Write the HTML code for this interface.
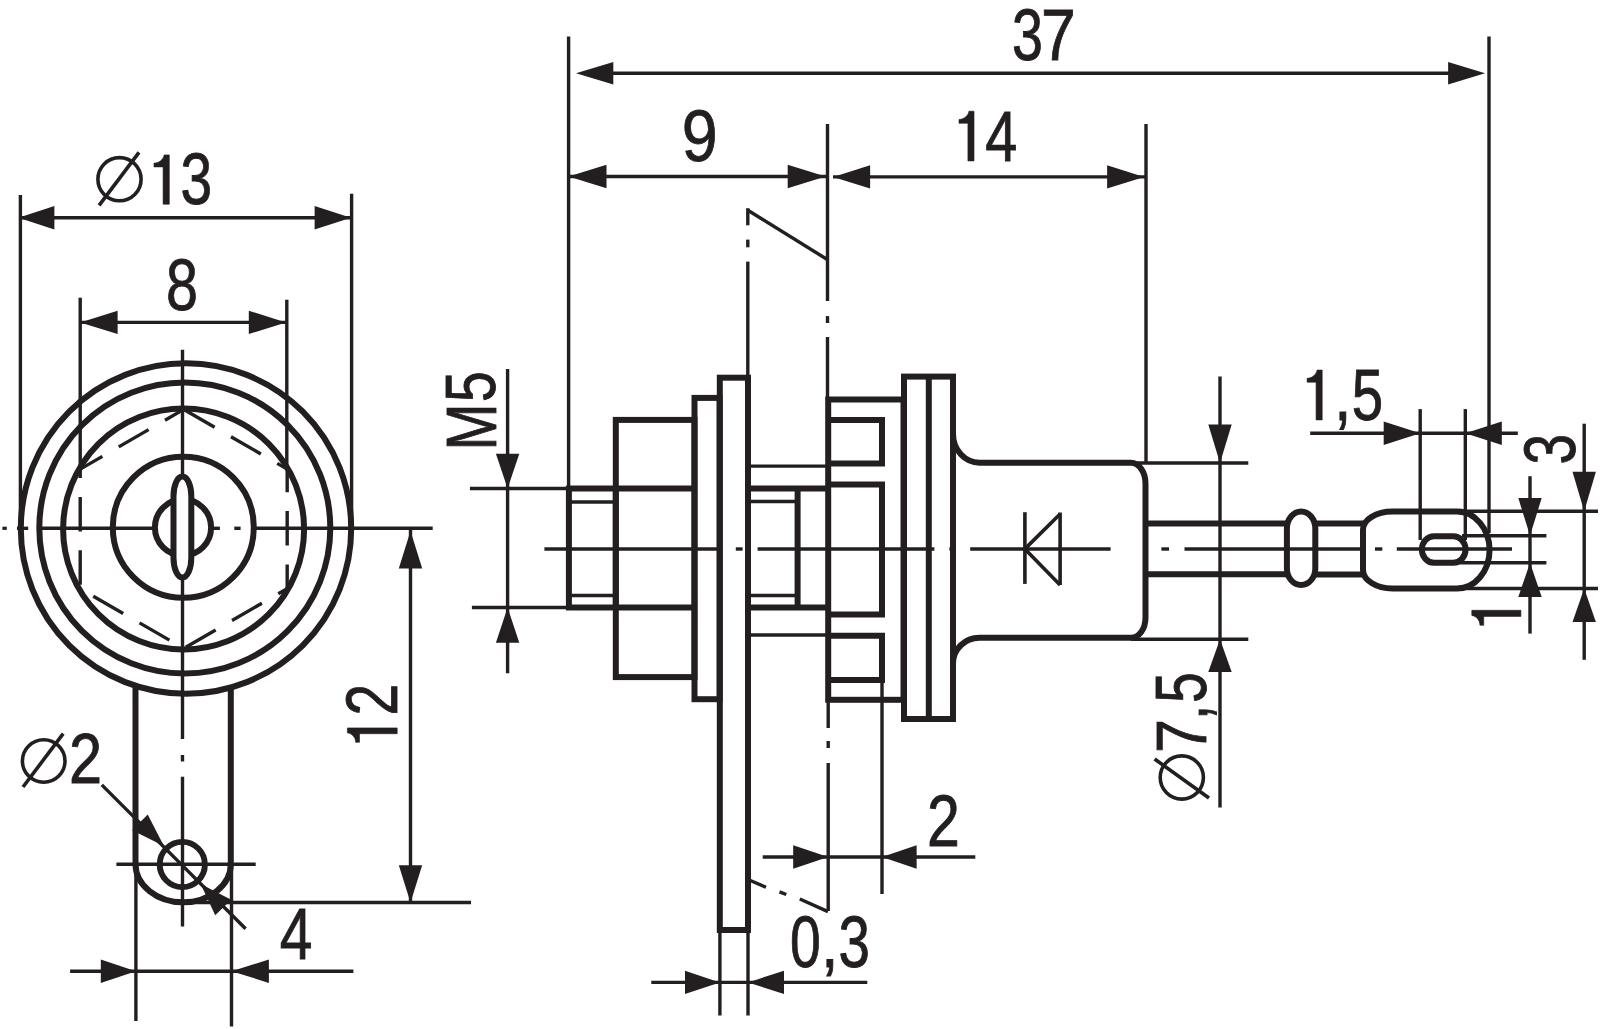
<!DOCTYPE html>
<html><head><meta charset="utf-8"><style>
html,body{margin:0;padding:0;background:#fff;width:1600px;height:1029px;overflow:hidden}
svg{display:block}
text{font-family:"Liberation Sans",sans-serif}
</style></head><body>
<svg width="1600" height="1029" viewBox="0 0 1600 1029">
<rect x="0" y="0" width="1600" height="1029" fill="#fff"/>
<g stroke="#231f20" fill="none" stroke-linecap="butt" stroke-linejoin="miter">
<line x1="182.5" y1="349.7" x2="182.5" y2="739" stroke-width="3.4"/>
<line x1="182.5" y1="755" x2="182.5" y2="761.5" stroke-width="3.4"/>
<line x1="182.5" y1="776.8" x2="182.5" y2="926.5" stroke-width="3.4"/>
<line x1="2.4" y1="528.3" x2="6.8" y2="528.3" stroke-width="3.2"/>
<line x1="17" y1="528.3" x2="28.2" y2="528.3" stroke-width="3.4"/>
<line x1="40" y1="528.3" x2="155" y2="528.3" stroke-width="3.4"/>
<line x1="211" y1="528.3" x2="219.9" y2="528.3" stroke-width="3.4"/>
<line x1="234.3" y1="528.3" x2="240.6" y2="528.3" stroke-width="3.4"/>
<line x1="253" y1="528.3" x2="432.7" y2="528.3" stroke-width="3.4"/>
<circle cx="186" cy="528.5" r="165.2" stroke-width="6.0" fill="none"/>
<circle cx="184.8" cy="528" r="145.5" stroke-width="6.0" fill="none"/>
<circle cx="183.6" cy="529" r="120.5" stroke-width="6.0" fill="none"/>
<circle cx="183.3" cy="527.3" r="70.5" stroke-width="6.0" fill="none"/>
<circle cx="183" cy="527.4" r="28.1" stroke-width="6.0" fill="none"/>
<path d="M173.5,496 A8.9,19.5 0 0 1 191.3,496 L191.3,558 A8.9,19.5 0 0 1 173.5,558 Z" stroke-width="6.0" fill="#fff" />
<path d="M183.70,409.40 L80.21,469.15 L80.21,588.65 L183.70,648.40 L287.19,588.65 L287.19,469.15 Z" stroke-width="3.4" fill="none" stroke-dasharray="34.5 18.9" stroke-dashoffset="12.9"/>
<line x1="20.4" y1="195" x2="20.4" y2="528" stroke-width="3.4"/>
<line x1="351.6" y1="193.8" x2="351.6" y2="528" stroke-width="3.4"/>
<line x1="20.4" y1="217.8" x2="351.6" y2="217.8" stroke-width="3.4"/>
<polygon points="18.5,217.8 54.4,206.1 54.4,229.5" fill="#231f20" stroke="none"/>
<polygon points="351.0,217.8 314.6,229.5 314.6,206.1" fill="#231f20" stroke="none"/>
<line x1="80.2" y1="297.7" x2="80.2" y2="469.2" stroke-width="3.4"/>
<line x1="286.8" y1="299.7" x2="286.8" y2="469.2" stroke-width="3.4"/>
<line x1="80.2" y1="322.4" x2="286.8" y2="322.4" stroke-width="3.4"/>
<polygon points="80.2,322.4 117.6,310.7 117.6,334.1" fill="#231f20" stroke="none"/>
<polygon points="286.0,322.4 248.8,334.1 248.8,310.7" fill="#231f20" stroke="none"/>
<path d="M135.5,686 L135.5,864 A47.65,38.3 0 0 0 230.8,864 L230.8,688" stroke-width="6.0" fill="none" />
<circle cx="182.3" cy="864.5" r="22.6" stroke-width="5.9" fill="none"/>
<line x1="116.4" y1="864.3" x2="255.7" y2="864.3" stroke-width="3.4"/>
<line x1="135.9" y1="864" x2="135.9" y2="1021" stroke-width="3.4"/>
<line x1="231.5" y1="864" x2="231.5" y2="1026.5" stroke-width="3.4"/>
<line x1="70.1" y1="971.2" x2="353.4" y2="971.2" stroke-width="3.4"/>
<polygon points="135.9,971.2 100.8,982.9 100.8,959.5" fill="#231f20" stroke="none"/>
<polygon points="231.5,971.2 268.9,959.5 268.9,982.9" fill="#231f20" stroke="none"/>
<line x1="183" y1="902.5" x2="471" y2="902.5" stroke-width="3.4"/>
<line x1="410.5" y1="528.3" x2="410.5" y2="902.5" stroke-width="3.4"/>
<polygon points="410.5,531.0 422.2,568.5 398.8,568.5" fill="#231f20" stroke="none"/>
<polygon points="410.5,902.5 398.8,865.2 422.2,865.2" fill="#231f20" stroke="none"/>
<line x1="101.8" y1="784.9" x2="245.6" y2="928.7" stroke-width="3.4"/>
<polygon points="163.9,846.0 132.1,830.2 147.7,814.4" fill="#231f20" stroke="none"/>
<polygon points="200.7,884.0 231.2,899.8 215.2,915.2" fill="#231f20" stroke="none"/>
<rect x="568.9" y="488.5" width="46.89999999999998" height="119.0" stroke-width="6.0" fill="none"/>
<line x1="568.9" y1="502" x2="615.8" y2="502" stroke-width="3.4"/>
<line x1="568.9" y1="595.5" x2="615.8" y2="595.5" stroke-width="3.4"/>
<rect x="615.8" y="419.9" width="78.70000000000005" height="257.20000000000005" stroke-width="6.0" fill="none"/>
<line x1="615.8" y1="488.5" x2="694.5" y2="488.5" stroke-width="6.0"/>
<line x1="615.8" y1="607.5" x2="694.5" y2="607.5" stroke-width="6.0"/>
<rect x="694.5" y="397.9" width="25.100000000000023" height="301.30000000000007" stroke-width="6.0" fill="none"/>
<rect x="719.8" y="377.7" width="28.200000000000045" height="552.3" stroke-width="6.0" fill="none"/>
<line x1="719.9" y1="930" x2="719.9" y2="1015.5" stroke-width="3.4"/>
<line x1="748" y1="930" x2="748" y2="1015.5" stroke-width="3.4"/>
<line x1="748" y1="466.1" x2="828" y2="466.1" stroke-width="3.4"/>
<line x1="748" y1="488.5" x2="828" y2="488.5" stroke-width="6.0"/>
<line x1="748" y1="501.5" x2="797.6" y2="501.5" stroke-width="3.4"/>
<line x1="797.6" y1="488.5" x2="797.6" y2="607.5" stroke-width="6.0"/>
<line x1="748" y1="595.5" x2="797.6" y2="595.5" stroke-width="3.4"/>
<line x1="748" y1="607.5" x2="828" y2="607.5" stroke-width="6.0"/>
<line x1="748" y1="635" x2="828" y2="635" stroke-width="3.4"/>
<rect x="828.2" y="399.5" width="75.29999999999995" height="300.29999999999995" stroke-width="6.0" fill="none"/>
<polyline points="828.2,419.9 882,419.9 882,463.4 828.2,463.4" stroke-width="6.0" fill="none"/>
<polyline points="828.2,484.6 882,484.6 882,614.5 828.2,614.5" stroke-width="6.0" fill="none"/>
<polyline points="828.2,635.7 882,635.7 882,680 828.2,680" stroke-width="6.0" fill="none"/>
<rect x="904" y="376.6" width="49" height="342.4" stroke-width="6.0" fill="none"/>
<line x1="928.8" y1="376.6" x2="928.8" y2="719" stroke-width="6.0"/>
<path d="M953,434 A26.5,28.7 0 0 0 979.5,462.7 L1131,462.7 A14.5,21 0 0 1 1145.5,484 L1145.5,618 A14.5,20 0 0 1 1131,637.8 L979.5,637.8 A26.5,25.5 0 0 0 953,663.3" stroke-width="6.0" fill="none" />
<line x1="1024.9" y1="512.2" x2="1024.9" y2="583.9" stroke-width="3.6"/>
<line x1="1024.9" y1="548.9" x2="1060.1" y2="514" stroke-width="3.6"/>
<line x1="1060.1" y1="512.5" x2="1060.1" y2="585" stroke-width="3.6"/>
<line x1="1024.9" y1="548.9" x2="1060.1" y2="585" stroke-width="3.6"/>
<line x1="1145.5" y1="523.5" x2="1288" y2="523.5" stroke-width="6.0"/>
<line x1="1145.5" y1="574.2" x2="1288" y2="574.2" stroke-width="6.0"/>
<line x1="1314" y1="523.4" x2="1364" y2="523.4" stroke-width="6.0"/>
<line x1="1314" y1="574.5" x2="1364" y2="574.5" stroke-width="6.0"/>
<path d="M1286.9,528.5 A14.2,17 0 0 1 1315.3,528.5 L1315.3,568.5 A14.2,16.5 0 0 1 1286.9,568.5 Z" stroke-width="6.0" fill="#fff" />
<path d="M1392.4,511.6 L1457,511.6 A32.6,38.45 0 0 1 1457,588.5 L1392.4,588.5 A29.4,18.5 0 0 1 1363,570 L1363,529.5 A29.4,17.9 0 0 1 1392.4,511.6 Z" stroke-width="6.0" fill="#fff" />
<path d="M1434,536.25 L1453.4,536.25 A12.15,13.25 0 0 1 1453.4,562.75 L1434,562.75 A12.15,13.25 0 0 1 1434,536.25 Z" stroke-width="6.0" fill="none" />
<line x1="544.4" y1="549.0" x2="718" y2="549.0" stroke-width="3.4"/>
<line x1="735.8" y1="549.0" x2="742.6" y2="549.0" stroke-width="3.4"/>
<line x1="757.6" y1="549.0" x2="934.4" y2="549.0" stroke-width="3.4"/>
<line x1="949.4" y1="549.0" x2="953" y2="549.0" stroke-width="3.4"/>
<line x1="970.2" y1="549.0" x2="1110.6" y2="549.0" stroke-width="3.4"/>
<line x1="1161.4" y1="549.0" x2="1169" y2="549.0" stroke-width="3.4"/>
<line x1="1184.5" y1="549.0" x2="1361.4" y2="549.0" stroke-width="3.4"/>
<line x1="1375" y1="549.0" x2="1382.3" y2="549.0" stroke-width="3.4"/>
<line x1="1396.8" y1="549.0" x2="1512" y2="549.0" stroke-width="3.4"/>
<line x1="747.8" y1="208.2" x2="747.8" y2="225.3" stroke-width="3.4"/>
<line x1="747.8" y1="239.6" x2="747.8" y2="247.3" stroke-width="3.4"/>
<line x1="747.8" y1="261.6" x2="747.8" y2="377" stroke-width="3.4"/>
<line x1="747.8" y1="210.3" x2="827.3" y2="259.5" stroke-width="3.4"/>
<line x1="827.5" y1="123.9" x2="827.5" y2="301.1" stroke-width="3.4"/>
<line x1="827.5" y1="316.1" x2="827.5" y2="323" stroke-width="3.4"/>
<line x1="827.5" y1="337" x2="827.5" y2="399.5" stroke-width="3.4"/>
<line x1="828.2" y1="699.6" x2="828.2" y2="728" stroke-width="3.4"/>
<line x1="828.2" y1="741" x2="828.2" y2="748" stroke-width="3.4"/>
<line x1="828.2" y1="763" x2="828.2" y2="911" stroke-width="3.4"/>
<line x1="750.3" y1="880.5" x2="766" y2="887.3" stroke-width="3.4"/>
<line x1="779.5" y1="891.8" x2="786.3" y2="894.5" stroke-width="3.4"/>
<line x1="799.8" y1="899" x2="828" y2="911.6" stroke-width="3.4"/>
<line x1="568.6" y1="36.4" x2="568.6" y2="488.5" stroke-width="3.4"/>
<line x1="1489" y1="36.6" x2="1489" y2="533" stroke-width="3.4"/>
<line x1="590" y1="73.3" x2="1470" y2="73.3" stroke-width="3.4"/>
<polygon points="576.0,73.3 613.3,62.0 613.3,84.6" fill="#231f20" stroke="none"/>
<polygon points="1485.1,73.3 1448.1,84.6 1448.1,62.0" fill="#231f20" stroke="none"/>
<line x1="568.6" y1="176.5" x2="827.5" y2="176.5" stroke-width="3.4"/>
<polygon points="568.6,176.5 606.5,164.8 606.5,188.2" fill="#231f20" stroke="none"/>
<polygon points="825.6,176.5 787.7,188.2 787.7,164.8" fill="#231f20" stroke="none"/>
<line x1="1146" y1="123.9" x2="1146" y2="462.7" stroke-width="3.4"/>
<line x1="833" y1="176.9" x2="1146" y2="176.9" stroke-width="3.4"/>
<polygon points="833.1,176.9 870.1,165.2 870.1,188.6" fill="#231f20" stroke="none"/>
<polygon points="1144.1,176.9 1107.1,188.6 1107.1,165.2" fill="#231f20" stroke="none"/>
<line x1="469.9" y1="488.5" x2="568.9" y2="488.5" stroke-width="3.4"/>
<line x1="471.9" y1="607.5" x2="568.9" y2="607.5" stroke-width="3.4"/>
<line x1="507.6" y1="369" x2="507.6" y2="673.3" stroke-width="3.4"/>
<polygon points="507.6,488.5 495.9,453.8 519.3,453.8" fill="#231f20" stroke="none"/>
<polygon points="507.6,607.5 519.3,642.7 495.9,642.7" fill="#231f20" stroke="none"/>
<line x1="1131" y1="463" x2="1248.3" y2="463" stroke-width="3.4"/>
<line x1="1131" y1="639.3" x2="1248.3" y2="639.3" stroke-width="3.4"/>
<line x1="1220" y1="376.5" x2="1220" y2="807.6" stroke-width="3.4"/>
<polygon points="1220.0,463.0 1208.3,424.5 1231.7,424.5" fill="#231f20" stroke="none"/>
<polygon points="1220.0,639.3 1231.7,672.1 1208.3,672.1" fill="#231f20" stroke="none"/>
<line x1="882" y1="680" x2="882" y2="894" stroke-width="3.4"/>
<line x1="762.7" y1="857" x2="975.3" y2="857" stroke-width="3.4"/>
<polygon points="828.2,857.0 793.2,868.7 793.2,845.3" fill="#231f20" stroke="none"/>
<polygon points="882.0,857.0 916.6,845.3 916.6,868.7" fill="#231f20" stroke="none"/>
<line x1="651.3" y1="982.4" x2="867.3" y2="982.4" stroke-width="3.4"/>
<polygon points="719.9,982.4 685.0,994.1 685.0,970.7" fill="#231f20" stroke="none"/>
<polygon points="748.0,982.4 784.0,970.7 784.0,994.1" fill="#231f20" stroke="none"/>
<line x1="1420.2" y1="409.1" x2="1420.2" y2="540" stroke-width="3.4"/>
<line x1="1465.3" y1="409.1" x2="1465.3" y2="540" stroke-width="3.4"/>
<line x1="1310.2" y1="433.3" x2="1517.8" y2="433.3" stroke-width="3.4"/>
<polygon points="1420.2,433.3 1383.7,445.0 1383.7,421.6" fill="#231f20" stroke="none"/>
<polygon points="1465.3,433.3 1501.8,421.6 1501.8,445.0" fill="#231f20" stroke="none"/>
<line x1="1460" y1="511.3" x2="1598" y2="511.3" stroke-width="3.4"/>
<line x1="1460" y1="588.5" x2="1598" y2="588.5" stroke-width="3.4"/>
<line x1="1584.2" y1="423.7" x2="1584.2" y2="659.8" stroke-width="3.4"/>
<polygon points="1584.2,511.3 1572.5,471.8 1595.9,471.8" fill="#231f20" stroke="none"/>
<polygon points="1584.2,588.5 1595.9,621.9 1572.5,621.9" fill="#231f20" stroke="none"/>
<line x1="1462" y1="535.7" x2="1546.4" y2="535.7" stroke-width="3.4"/>
<line x1="1460" y1="562.8" x2="1546.4" y2="562.8" stroke-width="3.4"/>
<line x1="1530" y1="476.2" x2="1530" y2="633.6" stroke-width="3.4"/>
<polygon points="1530.0,535.7 1518.3,498.0 1541.7,498.0" fill="#231f20" stroke="none"/>
<polygon points="1530.0,562.8 1541.7,597.1 1518.3,597.1" fill="#231f20" stroke="none"/>
<circle cx="119.5" cy="179.2" r="21.6" stroke-width="3.6" fill="none"/>
<line x1="99.1" y1="205.4" x2="139" y2="152.3" stroke-width="3.6"/>
<path d="M169.30,154.90 L169.30,204.20 L163.10,204.20 L163.10,166.88 L154.00,166.88 L154.00,163.08 C159.05,163.08 163.49,159.34 164.10,154.90 Z" fill="#231f20" stroke="#231f20" stroke-width="0.6"/>
<text transform="translate(180.43,204.39) scale(0.5695,0.7274)" font-size="100" fill="#231f20" stroke="#231f20" stroke-width="0.8" vector-effect="non-scaling-stroke">3</text>
<text transform="translate(166.10,309.70) scale(0.5754,0.7203)" font-size="100" fill="#231f20" stroke="#231f20" stroke-width="0.8" vector-effect="non-scaling-stroke">8</text>
<path d="M347.40,727.90 L397.20,727.90 L397.20,733.73 L359.50,733.73 L359.50,742.30 L355.67,742.30 C355.67,737.55 351.88,733.37 347.40,732.80 Z" fill="#231f20" stroke="#231f20" stroke-width="0.6"/>
<text transform="translate(396.80,715.57) rotate(-90) scale(0.5707,0.7175)" font-size="100" fill="#231f20" stroke="#231f20" stroke-width="0.8" vector-effect="non-scaling-stroke">2</text>
<circle cx="43.7" cy="761" r="21.3" stroke-width="3.6" fill="none"/>
<line x1="23" y1="787" x2="63.2" y2="733.6" stroke-width="3.6"/>
<text transform="translate(69.11,782.50) scale(0.5949,0.7032)" font-size="100" fill="#231f20" stroke="#231f20" stroke-width="0.8" vector-effect="non-scaling-stroke">2</text>
<text transform="translate(279.85,959.40) scale(0.5874,0.7209)" font-size="100" fill="#231f20" stroke="#231f20" stroke-width="0.8" vector-effect="non-scaling-stroke">4</text>
<text transform="translate(1011.88,60.49) scale(0.5568,0.7288)" font-size="100" fill="#231f20" stroke="#231f20" stroke-width="0.8" vector-effect="non-scaling-stroke">3</text>
<text transform="translate(1041.10,59.80) scale(0.6247,0.7151)" font-size="100" fill="#231f20" stroke="#231f20" stroke-width="0.8" vector-effect="non-scaling-stroke">7</text>
<text transform="translate(681.68,160.69) scale(0.6451,0.7302)" font-size="100" fill="#231f20" stroke="#231f20" stroke-width="0.8" vector-effect="non-scaling-stroke">9</text>
<path d="M974.00,111.20 L974.00,160.90 L967.92,160.90 L967.92,123.28 L959.00,123.28 L959.00,119.45 C963.95,119.45 968.30,115.67 968.90,111.20 Z" fill="#231f20" stroke="#231f20" stroke-width="0.6"/>
<text transform="translate(985.37,160.50) scale(0.5775,0.7108)" font-size="100" fill="#231f20" stroke="#231f20" stroke-width="0.8" vector-effect="non-scaling-stroke">4</text>
<text transform="translate(495.70,450.44) rotate(-90) scale(0.5651,0.7079)" font-size="100" fill="#231f20" stroke="#231f20" stroke-width="0.8" vector-effect="non-scaling-stroke">M</text>
<text transform="translate(495.02,402.11) rotate(-90) scale(0.5526,0.6980)" font-size="100" fill="#231f20" stroke="#231f20" stroke-width="0.8" vector-effect="non-scaling-stroke">5</text>
<circle cx="1181.8" cy="777.5" r="21.6" stroke-width="3.6" fill="none"/>
<line x1="1154.6" y1="759" x2="1209" y2="798" stroke-width="3.6"/>
<text transform="translate(1205.50,753.04) rotate(-90) scale(0.6115,0.7122)" font-size="100" fill="#231f20" stroke="#231f20" stroke-width="0.8" vector-effect="non-scaling-stroke">7</text>
<text transform="translate(1206.73,719.66) rotate(-90) scale(0.5298,0.7323)" font-size="100" fill="#231f20" stroke="#231f20" stroke-width="0.8" vector-effect="non-scaling-stroke">,</text>
<text transform="translate(1205.70,702.80) rotate(-90) scale(0.5484,0.7152)" font-size="100" fill="#231f20" stroke="#231f20" stroke-width="0.8" vector-effect="non-scaling-stroke">5</text>
<text transform="translate(927.03,845.50) scale(0.5905,0.7232)" font-size="100" fill="#231f20" stroke="#231f20" stroke-width="0.8" vector-effect="non-scaling-stroke">2</text>
<text transform="translate(789.94,966.89) scale(0.5523,0.7246)" font-size="100" fill="#231f20" stroke="#231f20" stroke-width="0.8" vector-effect="non-scaling-stroke">0</text>
<text transform="translate(821.02,967.40) scale(0.6317,0.7111)" font-size="100" fill="#231f20" stroke="#231f20" stroke-width="0.8" vector-effect="non-scaling-stroke">,</text>
<text transform="translate(838.55,966.89) scale(0.5653,0.7302)" font-size="100" fill="#231f20" stroke="#231f20" stroke-width="0.8" vector-effect="non-scaling-stroke">3</text>
<path d="M1322.20,370.10 L1322.20,419.90 L1316.08,419.90 L1316.08,382.20 L1307.10,382.20 L1307.10,378.37 C1312.08,378.37 1316.46,374.58 1317.07,370.10 Z" fill="#231f20" stroke="#231f20" stroke-width="0.6"/>
<text transform="translate(1334.02,420.47) scale(0.6317,0.7451)" font-size="100" fill="#231f20" stroke="#231f20" stroke-width="0.8" vector-effect="non-scaling-stroke">,</text>
<text transform="translate(1351.84,419.60) scale(0.5653,0.7137)" font-size="100" fill="#231f20" stroke="#231f20" stroke-width="0.8" vector-effect="non-scaling-stroke">5</text>
<text transform="translate(1575.39,464.49) rotate(-90) scale(0.5484,0.7288)" font-size="100" fill="#231f20" stroke="#231f20" stroke-width="0.8" vector-effect="non-scaling-stroke">3</text>
<path d="M1471.80,610.30 L1520.90,610.30 L1520.90,616.38 L1483.73,616.38 L1483.73,625.30 L1479.95,625.30 C1479.95,620.35 1476.22,616.00 1471.80,615.40 Z" fill="#231f20" stroke="#231f20" stroke-width="0.6"/>
</g>
</svg>
</body></html>
